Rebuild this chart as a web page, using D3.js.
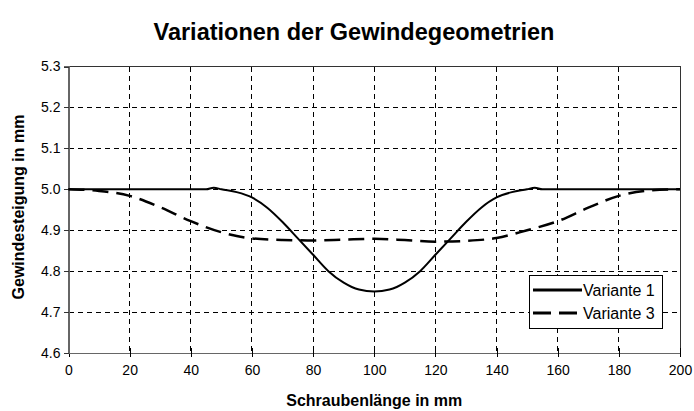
<!DOCTYPE html>
<html>
<head>
<meta charset="utf-8">
<script src="https://cdn.jsdelivr.net/npm/d3@7"></script>
<style>
  body { margin: 0; background: #fff; }
  svg { font-family: Arial, "Liberation Sans", sans-serif; }
</style>
</head>
<body>
<svg id="chart"></svg>
<script>
// Schraubenlänge (mm) und Gewindesteigung (mm)
const xVariante1 = [0, 10, 20, 30, 40, 45, 47.5, 50, 55, 60, 65, 70, 75, 80, 85, 90, 95, 100,
  105, 110, 115, 120, 125, 130, 135, 140, 145, 150, 152.5, 155, 160, 170, 180, 190, 200];
const yVariante1 = [5.0, 5.0, 5.0, 5.0, 5.0, 5.0, 5.004, 5.0, 4.993, 4.98, 4.955, 4.92, 4.88, 4.84, 4.8, 4.772, 4.755, 4.75,
  4.755, 4.772, 4.8, 4.84, 4.88, 4.92, 4.955, 4.98, 4.993, 5.0, 5.004, 5.0, 5.0, 5.0, 5.0, 5.0, 5.0];

const xVariante3 = [0, 10, 20, 30, 40, 50, 60, 70, 80, 90, 100, 110, 120, 130, 140, 150, 160, 170, 180, 190, 200];
const yVariante3 = [5.0, 4.996, 4.984, 4.956, 4.922, 4.895, 4.88, 4.876, 4.875, 4.877, 4.879, 4.876, 4.872, 4.874, 4.881, 4.9, 4.922, 4.955, 4.984, 4.997, 5.0];

const seriesNames = ["Variante 1", "Variante 3"];
const xTicks = [0, 20, 40, 60, 80, 100, 120, 140, 160, 180, 200];
const yTicks = [4.6, 4.7, 4.8, 4.9, 5.0, 5.1, 5.2, 5.3];

const width = 694, height = 411;
const margin = { top: 66.5, right: 14, bottom: 58, left: 68.5 };
const innerW = width - margin.left - margin.right;
const innerH = height - margin.top - margin.bottom;

const svg = d3.select("#chart").attr("width", width).attr("height", height);
const chart = svg.append("g").attr("transform", `translate(${margin.left},${margin.top})`);

const xScale = d3.scaleLinear().domain([0, 200]).range([0, innerW]);
const yScale = d3.scaleLinear().domain([4.6, 5.3]).range([innerH, 0]);

// Gitterlinien
chart.append("g").selectAll("line")
  .data(xTicks.slice(1, -1))
  .join("line")
  .attr("x1", d => xScale(d)).attr("x2", d => xScale(d))
  .attr("y1", 0).attr("y2", innerH)
  .attr("stroke", "#000").attr("stroke-width", 1)
  .attr("stroke-dasharray", "5,4")
  .attr("shape-rendering", "crispEdges");

chart.append("g").selectAll("line")
  .data(yTicks.slice(1, -1))
  .join("line")
  .attr("x1", 0).attr("x2", innerW)
  .attr("y1", d => yScale(d)).attr("y2", d => yScale(d))
  .attr("stroke", "#000").attr("stroke-width", 1)
  .attr("stroke-dasharray", "5,4")
  .attr("shape-rendering", "crispEdges");

// Rahmen oben / rechts
chart.append("path")
  .attr("d", `M0,0H${innerW}V${innerH}`)
  .attr("fill", "none").attr("stroke", "#333").attr("stroke-width", 1)
  .attr("shape-rendering", "crispEdges");

// Achsen
const xAxis = d3.axisBottom(xScale).tickValues(xTicks).tickSize(0).tickPadding(12)
  .tickFormat(d3.format("d"));
const yAxis = d3.axisLeft(yScale).tickValues(yTicks).tickSize(5).tickPadding(3)
  .tickFormat(d3.format(".1f"));

const xAxisG = chart.append("g")
  .attr("transform", `translate(0,${innerH})`)
  .call(xAxis);
xAxisG.select(".domain").attr("stroke", "#666").attr("stroke-width", 1.5);
xAxisG.selectAll(".tick").append("line")
  .attr("y1", -5).attr("y2", 4)
  .attr("stroke", "#000");
xAxisG.selectAll("text").attr("font-size", 14).attr("fill", "#000");

const yAxisG = chart.append("g").call(yAxis);
yAxisG.select(".domain").attr("stroke", "#666").attr("stroke-width", 1.5);
yAxisG.selectAll(".tick line").attr("stroke", "#333");
yAxisG.selectAll("text").attr("font-size", 14).attr("fill", "#000");
svg.selectAll(".domain, .tick line").attr("shape-rendering", "crispEdges");

// Kurven
const line = d3.line()
  .x(d => xScale(d[0]))
  .y(d => yScale(d[1]))
  .curve(d3.curveMonotoneX);

chart.append("path")
  .datum(d3.zip(xVariante3, yVariante3))
  .attr("fill", "none")
  .attr("stroke", "#000")
  .attr("stroke-width", 2.5)
  .attr("stroke-dasharray", "16,8")
  .attr("d", line);

chart.append("path")
  .datum(d3.zip(xVariante1, yVariante1))
  .attr("fill", "none")
  .attr("stroke", "#000")
  .attr("stroke-width", 2)
  .attr("d", line);

// Titel
svg.append("text")
  .attr("x", 354).attr("y", 40)
  .attr("text-anchor", "middle")
  .attr("font-size", 23.5).attr("font-weight", "bold")
  .text("Variationen der Gewindegeometrien");

svg.append("text")
  .attr("x", margin.left + innerW / 2).attr("y", 406)
  .attr("text-anchor", "middle")
  .attr("font-size", 16).attr("font-weight", "bold")
  .text("Schraubenlänge in mm");

svg.append("text")
  .attr("transform", "translate(24,207) rotate(-90)")
  .attr("text-anchor", "middle")
  .attr("font-size", 16).attr("font-weight", "bold")
  .text("Gewindesteigung in mm");

// Legende
const legend = svg.append("g").attr("transform", "translate(529,275)");
legend.append("rect")
  .attr("width", 133).attr("height", 53)
  .attr("fill", "#fff").attr("stroke", "#000").attr("stroke-width", 1)
  .attr("shape-rendering", "crispEdges");

const legendItems = legend.selectAll(".item")
  .data(seriesNames)
  .join("g")
  .attr("class", "item")
  .attr("transform", (d, i) => `translate(4,${15 + i * 23})`);

legendItems.append("line")
  .attr("x1", 0).attr("x2", 49)
  .attr("stroke", "#000")
  .attr("stroke-width", (d, i) => i === 0 ? 3 : 3)
  .attr("stroke-dasharray", (d, i) => i === 0 ? null : "18,8");

legendItems.append("text")
  .attr("x", 50).attr("y", 0).attr("dy", "0.35em")
  .attr("font-size", 16)
  .text(d => d);
</script>
</body>
</html>
